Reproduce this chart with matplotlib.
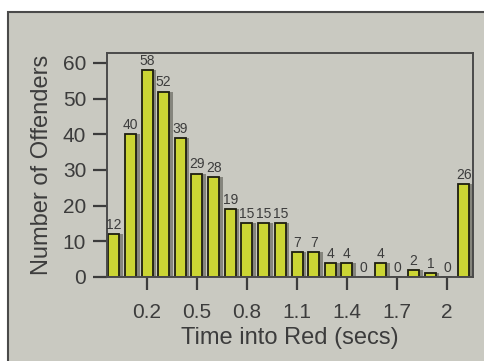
import matplotlib.pyplot as plt
from matplotlib.patches import Rectangle

# ------------ DATA
bins = [0.0, 0.1, 0.2, 0.3, 0.4, 0.5, 0.6, 0.7, 0.8, 0.9, 1.0,
        1.1, 1.2, 1.3, 1.4, 1.5, 1.6, 1.7, 1.8, 1.9, 2.0, 2.1]
counts = [12, 40, 58, 52, 39, 29, 28, 19, 15, 15, 15,
          7, 7, 4, 4, 0, 4, 0, 2, 1, 0, 26]
xticks = [0.2, 0.5, 0.8, 1.1, 1.4, 1.7, 2.0]
xtick_labels = ["0.2", "0.5", "0.8", "1.1", "1.4", "1.7", "2"]
yticks = [0, 10, 20, 30, 40, 50, 60]

# ------------ STYLE
panel = "#c9c9c1"
ink = "#3c3c3c"
bar_color = "#cbd534"
plt.rcParams['font.family'] = ['Liberation Sans', 'DejaVu Sans']

fig = plt.figure(figsize=(4.85, 3.61), dpi=100)
fig.patch.set_facecolor("white")

# grey panel behind the chart
fig.patches.append(Rectangle((8 / 485, -0.05), 1.0, 1 - 12 / 361 + 0.05,
                             transform=fig.transFigure, facecolor=panel,
                             edgecolor="#4a4a4a", linewidth=1.5, zorder=-10))

ax = fig.add_axes([107 / 485, 1 - 277 / 361, 366 / 485, 224 / 361])
ax.set_facecolor(panel)

# shadow strip to the right of each bar, then the bar
ax.bar([b + 0.022 for b in bins], counts, width=0.066, color="#85857d",
       linewidth=0, zorder=1)
ax.bar(bins, counts, width=0.066, color=bar_color, edgecolor="#1e1e10",
       linewidth=1.3, zorder=2)

# value labels (kept small enough not to run into each other)
for b, c in zip(bins, counts):
    ax.text(b, c + 0.6, str(c), ha="center", va="bottom",
            fontsize=10, color=ink, zorder=3)

ax.set_xlim(-0.04, 2.156)
ax.set_ylim(0, 62.8)
ax.set_xticks(xticks)
ax.set_xticklabels(xtick_labels)
ax.set_yticks(yticks)

for s in ax.spines.values():
    s.set_color("#4a4a4a")
    s.set_linewidth(1.4)

ax.tick_params(axis="x", direction="out", length=9, width=1.6, pad=10,
               colors=ink, labelsize=15)
ax.tick_params(axis="y", direction="out", length=10, width=1.6, pad=5,
               colors=ink, labelsize=15)
for t in ax.get_xticklines():
    t.set_color("#555555")

ax.set_xlabel("Time into Red (secs)", fontsize=17, color=ink, labelpad=3)
ax.set_ylabel("Number of Offenders", fontsize=17, color=ink, labelpad=7)

fig.savefig("out.png", dpi=100)
